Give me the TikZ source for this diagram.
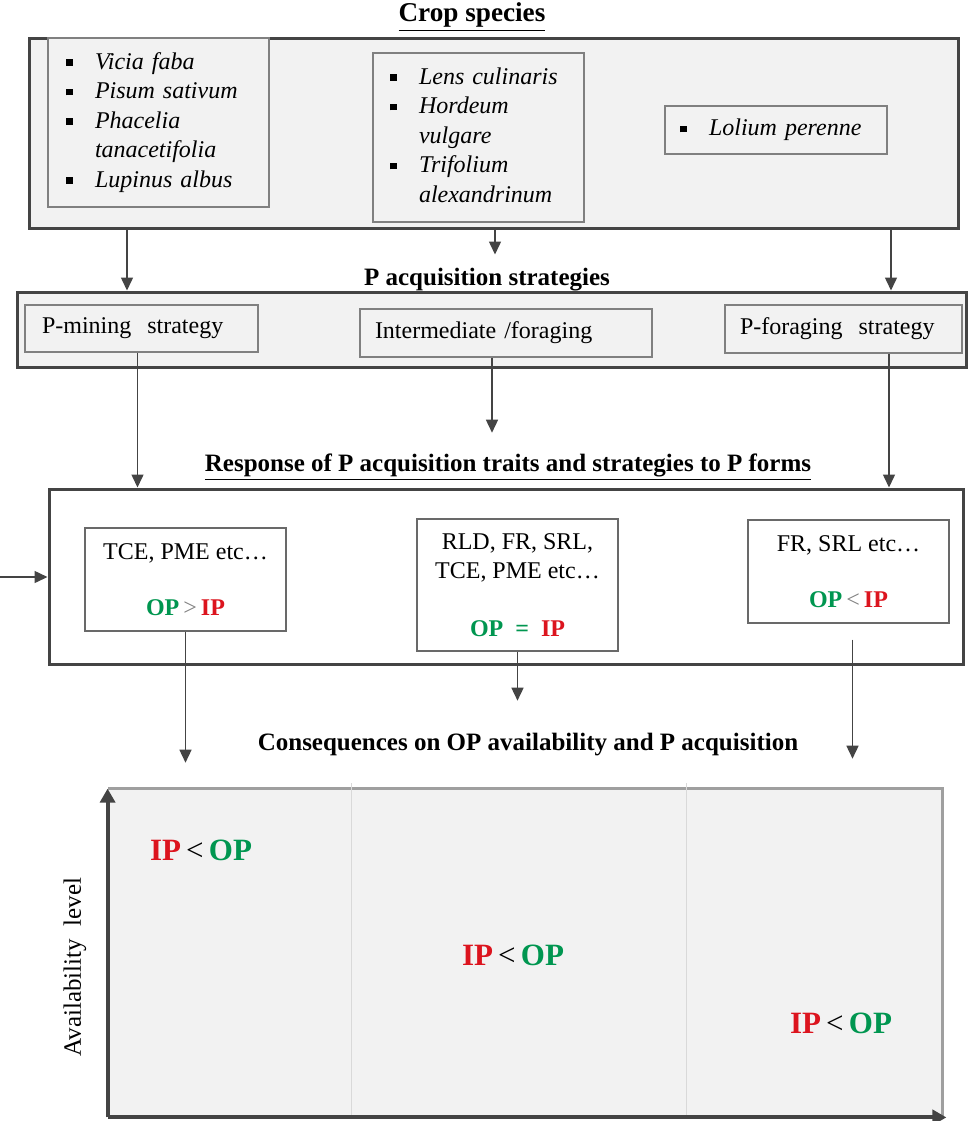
\documentclass[tikz,border=0pt]{standalone}
\usepackage{fontspec}
\setmainfont{Liberation Serif}
\usepackage{tikz}
\usetikzlibrary{arrows.meta,positioning,calc}
\usepackage{xcolor}
\definecolor{opgreen}{RGB}{0,150,80}
\definecolor{ipred}{RGB}{220,20,30}
\definecolor{boxgray}{RGB}{242,242,242}
\definecolor{linegray}{RGB}{68,68,68}
\newcommand{\sqb}{\rule[1.8pt]{3.4pt}{3.4pt}}
\newcommand{\OP}{\textbf{\textcolor{opgreen}{OP}}}
\newcommand{\IP}{\textbf{\textcolor{ipred}{IP}}}

\begin{document}
\begin{tikzpicture}[x=0.5pt, y=-0.5pt, font=\fontsize{12}{14.75}\selectfont,
    heading/.style={font=\fontsize{12.5}{15}\selectfont\bfseries, inner sep=1pt},
    outerbox/.style={draw=linegray, line width=1.5pt, fill=boxgray, inner sep=0pt},
    innerbox/.style={draw=gray, line width=0.7pt, fill=boxgray, inner ysep=0pt, align=left},
    tracebox/.style={draw=linegray!80, line width=0.7pt, fill=white, align=center},
    arr/.style={-{Stealth[length=6.5pt, width=6pt, inset=0pt]}, line width=0.75pt, linegray},
    axis/.style={-{Stealth[length=7pt, width=7.5pt, inset=0pt]}, line width=2pt, linegray}]
        \useasboundingbox (0,0) rectangle (968,1121);

        % crop species
        \node[heading, font=\fontsize{13.6}{16}\selectfont\bfseries] (cropTitle) at (472,17) {\underline{Crop species}};
        \node[outerbox, minimum width=464.5pt, minimum height=95pt] (crop) at (493.5,133) {};
        \node[innerbox, minimum height=84.5pt, inner xsep=9pt, text width=92.5pt]
          (legumes) at (158.5,122.5)
          {\begin{tabular}{@{}p{14.5pt}@{}l@{}}
             \sqb & \textit{Vicia faba}\\
             \sqb & \textit{Pisum sativum}\\
             \sqb & \textit{Phacelia}\\
                  & \textit{tanacetifolia}\\
             \sqb & \textit{Lupinus albus}
           \end{tabular}};
        \node[innerbox, minimum height=84.5pt, inner xsep=8.5pt, text width=88.5pt]
          (mixed) at (478.5,137.5)
          {\begin{tabular}{@{}p{14.5pt}@{}l@{}}
             \sqb & \textit{Lens culinaris}\\
             \sqb & \textit{Hordeum}\\
                  & \textit{vulgare}\\
             \sqb & \textit{Trifolium}\\
                  & \textit{alexandrinum}
           \end{tabular}};
        \node[innerbox, minimum height=24pt, inner xsep=7.5pt, text width=96pt]
          (grass) at (776,130)
          {\begin{tabular}{@{}p{14.5pt}@{}l@{}}
             \sqb & \textit{Lolium perenne}
           \end{tabular}};

        % strategies
        \node[heading] (stratTitle) at (487,280) {P acquisition strategies};
        \node[outerbox, minimum width=474.5pt, minimum height=37.5pt] (strategies) at (491.5,329.5) {};
        \node[innerbox, minimum height=23.5pt, inner xsep=8.5pt, text width=99.5pt]
          (mining) at (141.5,328.5) {P-mining\ \ strategy};
        \node[innerbox, minimum height=24pt, inner xsep=7.5pt, text width=131pt]
          (intermediate) at (506,333) {Intermediate /foraging};
        \node[innerbox, minimum height=24pt, inner xsep=7.5pt, text width=103.5pt]
          (foraging) at (843.5,329) {P-foraging\ \ strategy};

        % response of traits
        \node[heading] (respTitle) at (508,467)
          {\underline{Response of P acquisition traits and strategies to P forms}};
        \node[draw=linegray, line width=1.5pt, fill=white, minimum width=457pt, minimum height=87.5pt]
          (response) at (506,576.5) {};
        \node[tracebox, minimum width=100.5pt, minimum height=51.5pt]
          (tce) at (185.5,579.5) {TCE, PME etc…\\[13.25pt]\OP\,{\color{gray}>}\,\IP};
        \node[tracebox, minimum width=100.5pt, minimum height=66pt]
          (rld) at (517.5,585) {RLD, FR, SRL,\\TCE, PME etc…\\[14.25pt]\OP\ \ \textbf{\textcolor{opgreen}{=}}\ \ \IP};
        \node[tracebox, minimum width=100.5pt, minimum height=51.5pt]
          (frsrl) at (848.5,571.5) {FR, SRL etc…\\[13.25pt]\OP\,{\color{gray}<}\,\IP};

        % consequences
        \node[heading] (conseqTitle) at (528,745) {Consequences on OP availability and P acquisition};
        \node[fill=boxgray, minimum width=417pt, minimum height=164pt, inner sep=0pt]
          (chart) at (525,953) {};
        \draw[gray!75, line width=1.5pt] (chart.south east) -- (chart.north east) -- (chart.north west);
        \coordinate (sepA) at (351,783);
        \coordinate (sepB) at (686,783);
        \draw[gray!30, line width=0.5pt] (sepA) -- (sepA |- chart.south);
        \draw[gray!30, line width=0.5pt] (sepB) -- (sepB |- chart.south);
        \draw[axis] (chart.south west) -- (chart.north west);
        \draw[axis] (chart.south west) -- ([xshift=2pt]chart.south east);
        \node[font=\fontsize{15.5}{18}\selectfont] (levelA) at (201,850) {\IP\,<\,\OP};
        \node[font=\fontsize{15.5}{18}\selectfont] (levelB) at (513,955) {\IP\,<\,\OP};
        \node[font=\fontsize{15.5}{18}\selectfont] (levelC) at (841,1023) {\IP\,<\,\OP};
        \node[rotate=90, font=\fontsize{12.5}{15}\selectfont] (avail) at (75,967) {Availability\ \ level};

        % connectors
        \coordinate (colA) at (127,0);
        \coordinate (colB) at (495,0);
        \coordinate (colC) at (891,0);
        \coordinate (inflow) at (0,577);
        \draw[arr] (crop.south -| colA) -- (strategies.north -| colA);
        \draw[arr] (crop.south -| colB) -- ++(0,25);
        \draw[arr] (crop.south -| colC) -- (strategies.north -| colC);
        \draw[arr] ([xshift=-2pt]mining.south) -- ([xshift=-2pt]mining.south |- response.north);
        \draw[arr] ([xshift=-7pt]intermediate.south) -- ++(0,75);
        \draw[arr] ([xshift=22.75pt]foraging.south) -- ([xshift=22.75pt]foraging.south |- response.north);
        \draw[arr] (inflow) -- (inflow -| response.west);
        \draw[arr] (tce.south) -- ++(0,131);
        \draw[arr] (rld.south) -- ++(0,49);
        \draw[arr] ([xshift=2pt, yshift=-8pt]frsrl.south) -- ++(0,119);
      \end{tikzpicture}
\end{document}
